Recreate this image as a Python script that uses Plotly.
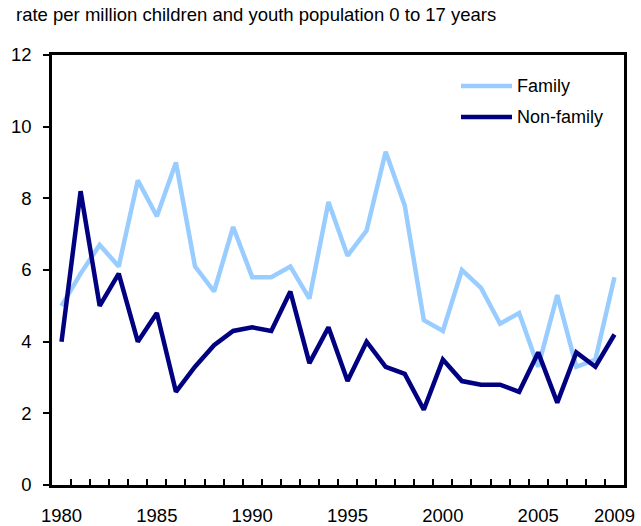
import plotly.graph_objects as go

years = list(range(1980, 2010))
family = [5.0, 5.9, 6.7, 6.1, 8.5, 7.5, 9.0, 6.1, 5.4, 7.2,
          5.8, 5.8, 6.1, 5.2, 7.9, 6.4, 7.1, 9.3, 7.8, 4.6,
          4.3, 6.0, 5.5, 4.5, 4.8, 3.3, 5.3, 3.3, 3.5, 5.8]
non_family = [4.0, 8.2, 5.0, 5.9, 4.0, 4.8, 2.6, 3.3, 3.9, 4.3,
              4.4, 4.3, 5.4, 3.4, 4.4, 2.9, 4.0, 3.3, 3.1, 2.1,
              3.5, 2.9, 2.8, 2.8, 2.6, 3.7, 2.3, 3.7, 3.3, 4.2]
series_names = ["Family", "Non-family"]
series_colors = ["#99ccff", "#000080"]
x_labels = [1980, 1985, 1990, 1995, 2000, 2005, 2009]
y_ticks = [0, 2, 4, 6, 8, 10, 12]

FONT = "Liberation Sans, Arial, Helvetica, sans-serif"
W, H = 641, 526
ML, MR, MT, MB = 52, 17, 55, 41
PW, PH = W - ML - MR, H - MT - MB

fig = go.Figure()
for name, vals, col in zip(series_names, [family, non_family], series_colors):
    fig.add_trace(go.Scatter(x=years, y=vals, mode="lines", name=name,
                             line=dict(color=col, width=4.5), showlegend=False))

# manual legend (longer line samples like the reference)
legend_y_px = [86, 117]
for name, col, ypx in zip(series_names, series_colors, legend_y_px):
    yp = (H - MB - ypx) / PH
    x0 = (461 - ML) / PW
    x1 = (512 - ML) / PW
    fig.add_shape(type="line", xref="paper", yref="paper", x0=x0, x1=x1, y0=yp, y1=yp,
                  line=dict(color=col, width=4.5))
    fig.add_annotation(text=name, xref="paper", yref="paper", x=(515 - ML) / PW, y=yp,
                       xanchor="left", yanchor="middle", showarrow=False,
                       font=dict(size=18, family=FONT, color="black"))

fig.update_layout(
    width=W, height=H,
    margin=dict(l=ML, r=MR, t=MT, b=MB, autoexpand=False),
    paper_bgcolor="white", plot_bgcolor="white",
    font=dict(family=FONT, size=18, color="black"),
    title=dict(text="rate per million children and youth population 0 to 17 years",
               x=16 / W, xref="container", xanchor="left",
               y=1 - 15 / H, yref="container", yanchor="middle",
               font=dict(size=18.5, family=FONT, color="black")),
    showlegend=False,
)

fig.update_xaxes(
    range=[1979.5, 2009.5], automargin=False,
    tickmode="array", tickvals=x_labels, ticktext=[str(v) for v in x_labels],
    ticks="inside", ticklen=0, ticklabelstandoff=12,
    minor=dict(tickmode="linear", tick0=1980.5, dtick=1, ticklen=6,
               tickwidth=2, tickcolor="black", ticks="inside"),
    showline=True, linecolor="black", linewidth=2.5, mirror=True,
    showgrid=False, zeroline=False,
    tickfont=dict(size=18.5, family=FONT),
)
fig.update_yaxes(
    range=[0, 12], tickmode="array", tickvals=y_ticks, automargin=False,
    ticks="outside", ticklen=6, tickwidth=2, tickcolor="black",
    ticklabelstandoff=8,
    showline=True, linecolor="black", linewidth=2.5, mirror=True,
    showgrid=False, zeroline=False,
    tickfont=dict(size=18.5, family=FONT),
)

fig.write_html("out.html", config={"displayModeBar": False},
               post_script="document.body.style.margin='0';document.body.style.padding='0';")
